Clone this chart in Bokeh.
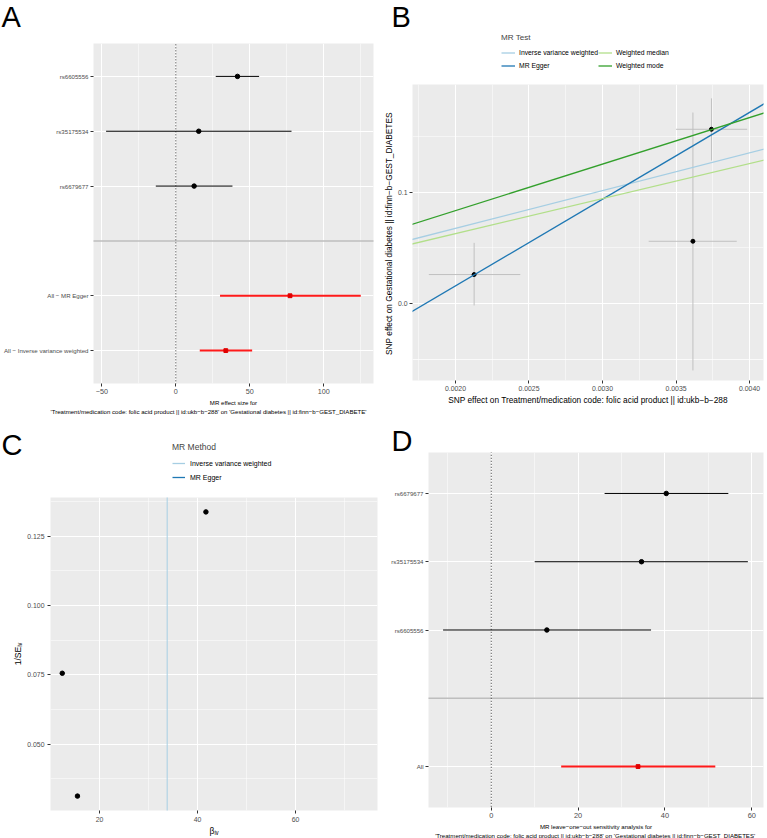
import numpy as np
from bokeh.plotting import figure
from bokeh.layouts import column, row
from bokeh.models import (Range1d, FixedTicker, Label, Legend, LegendItem, NumeralTickFormatter, Title)
from bokeh.embed import file_html
from bokeh.resources import INLINE

# ---------------- data ----------------
# A: MR effect size (single SNP + summary methods)
a_snps = ["rs6605556", "rs35175534", "rs6679677"]
a_snp_b = [41.7, 15.5, 12.4]
a_snp_lo = [27.0, -47.1, -13.5]
a_snp_hi = [56.3, 78.2, 38.3]
a_sum = ["All − MR Egger", "All − Inverse variance weighted"]
a_sum_b = [77.2, 33.8]
a_sum_lo = [29.9, 16.2]
a_sum_hi = [125.0, 51.6]
a_xticks = [-50, 0, 50, 100]
a_xlabel = ["MR effect size for",
            "'Treatment/medication code: folic acid product || id:ukb−b−288' "
            "on 'Gestational diabetes  || id:finn−b−GEST_DIABETE'"]

# B: scatter of SNP effects
b_snp_x = [0.002127, 0.003615, 0.003741]
b_snp_x_lo = [0.001819, 0.003314, 0.003500]
b_snp_x_hi = [0.002441, 0.003913, 0.003984]
b_snp_y = [0.0262, 0.0560, 0.1563]
b_snp_y_lo = [-0.0015, -0.0597, 0.1283]
b_snp_y_hi = [0.0546, 0.1713, 0.1840]
b_methods = ["Inverse variance weighted", "MR Egger", "Weighted median", "Weighted mode"]
b_slopes = [33.8, 77.7, 31.4, 41.7]
b_intercepts = [0.0, -0.1394, 0.0, 0.0]
b_colors = ["#a6cee3", "#1f78b4", "#b2df8a", "#33a02c"]
b_xticks = [0.0020, 0.0025, 0.0030, 0.0035, 0.0040]
b_yticks = [0.0, 0.1]
b_xlabel = "SNP effect on Treatment/medication code: folic acid product || id:ukb−b−288"
b_ylabel = "SNP effect on Gestational diabetes  || id:finn−b−GEST_DIABETES"

# C: funnel plot
c_beta = [41.7, 12.4, 15.5]
c_inv_se = [0.1338, 0.0756, 0.0313]
c_methods = ["Inverse variance weighted", "MR Egger"]
c_method_b = [33.8, 77.2]
c_colors = ["#a6cee3", "#1f78b4"]
c_xticks = [20, 40, 60]
c_yticks = [0.050, 0.075, 0.100, 0.125]
c_xlabel = "βᵢᵥ"
c_ylabel = "1/SEᵢᵥ"

# D: leave-one-out
d_snps = ["rs6679677", "rs35175534", "rs6605556"]
d_b = [40.3, 34.6, 12.8]
d_lo = [26.1, 10.0, -11.1]
d_hi = [54.6, 59.1, 36.8]
d_sum = ["All"]
d_sum_b = [33.8]
d_sum_lo = [16.1]
d_sum_hi = [51.6]
d_xticks = [0, 20, 40, 60]
d_xlabel = ["MR leave−one−out sensitivity analysis for",
            "'Treatment/medication code: folic acid product || id:ukb−b−288' "
            "on 'Gestational diabetes  || id:finn−b−GEST_DIABETES'"]

# ---------------- styling helpers ----------------
FONT = "Liberation Sans"
PANEL_BG = "#ebebeb"


def minors(ticks):
    step = ticks[1] - ticks[0]
    return [t - step / 2 for t in ticks] + [ticks[-1] + step / 2]


def fmt(v):
    s = f"{v:g}"
    return s.replace("-", "−")


def no_align(p):
    try:
        p.frame_align = False
    except Exception:
        pass


def make_fig(fw, fh, bl, br, bb, xr, yr):
    p = figure(width=fw + bl + br, height=fh + bb, min_border_left=bl, min_border_right=br,
               min_border_top=0, min_border_bottom=bb, x_range=Range1d(*xr), y_range=Range1d(*yr),
               output_backend="svg", toolbar_location=None, title=None)
    no_align(p)
    p.background_fill_color = PANEL_BG
    p.border_fill_color = "white"
    p.outline_line_color = None
    for ax in p.axis:
        ax.axis_line_color = None
        ax.major_tick_line_color = "#333333"
        ax.major_tick_out = 3
        ax.major_tick_in = 0
        ax.minor_tick_line_color = None
        ax.major_label_text_font = FONT
        ax.major_label_text_color = "#4d4d4d"
        ax.axis_label_text_font = FONT
        ax.axis_label_text_font_style = "normal"
        ax.axis_label_text_color = "black"
        ax.major_label_standoff = 2
        ax.axis_label_standoff = 2
    for g in p.grid:
        g.grid_line_color = "white"
        g.grid_line_width = 1.1
        g.minor_grid_line_color = "white"
        g.minor_grid_line_width = 0.5
    return p


def make_strip(w, h, letter, lx, lbase):
    """header strip above a panel: pixel-based data coordinates (y measured from top)"""
    s = figure(width=w, height=h, x_range=Range1d(0, w), y_range=Range1d(0, h),
               x_axis_location=None, y_axis_location=None, min_border=0,
               output_backend="svg", toolbar_location=None, title=None)
    no_align(s)
    for g in s.grid:
        g.visible = False
    s.background_fill_color = "white"
    s.border_fill_color = "white"
    s.outline_line_color = None
    s.add_layout(Label(x=lx, y=h - lbase, text=letter, text_font=FONT, text_font_size="29px",
                       text_color="black", text_align="left", text_baseline="alphabetic"))
    return s


def strip_legend(s, title, labels, colors, x_left, y_bottom_from_top, ncols, lab_size, title_size,
                 gw, gh, standoff):
    h = s.height
    items = []
    for lab, col in zip(labels, colors):
        r = s.segment(x0=[np.nan], y0=[np.nan], x1=[np.nan], y1=[np.nan], line_color=col, line_width=1.3)
        items.append(LegendItem(label=lab, renderers=[r]))
    leg = Legend(items=items, title=title, orientation="vertical", ncols=ncols,
                 location=(x_left, h - y_bottom_from_top), margin=0, padding=0, spacing=0,
                 glyph_width=gw, glyph_height=gh, label_standoff=standoff, label_height=gh,
                 label_text_font=FONT, label_text_font_size=lab_size, label_text_color="black",
                 title_text_font=FONT, title_text_font_size=title_size, title_text_font_style="normal",
                 title_standoff=4, background_fill_alpha=0, border_line_color=None)
    s.add_layout(leg, "center")


def below_lines(p, lines, size, aligns, offsets):
    for ln, al, off in zip(lines, aligns, offsets):
        p.add_layout(Title(text=ln, align=al, text_font=FONT, text_font_size=size,
                           text_font_style="normal", text_color="black", standoff=0, offset=off), "below")


def forest(p, snps, b, lo, hi, sums, sb, slo, shi, xticks, tick_x, tick_y):
    n_sum = len(sums)
    snp_pos = [n_sum + 1 + len(snps) - i for i in range(len(snps))]
    sum_pos = [n_sum - i for i in range(n_sum)]
    gap = n_sum + 1
    p.xaxis.ticker = FixedTicker(ticks=xticks, minor_ticks=minors(xticks))
    p.xaxis.major_label_overrides = {t: fmt(t) for t in xticks}
    p.yaxis.ticker = FixedTicker(ticks=sum_pos + snp_pos[::-1], minor_ticks=[])
    labs = {}
    for pos, l in zip(snp_pos, snps):
        labs[pos] = l
    for pos, l in zip(sum_pos, sums):
        labs[pos] = l
    p.yaxis.major_label_overrides = labs
    p.xaxis.major_label_text_font_size = tick_x
    p.yaxis.major_label_text_font_size = tick_y
    p.xaxis.major_label_standoff = 1
    xr, yr = p.x_range, p.y_range
    p.segment(x0=[xr.start - 100], y0=[gap], x1=[xr.end + 100], y1=[gap], line_color="#bebebe", line_width=1.5)
    p.segment(x0=[0], y0=[yr.start - 1], x1=[0], y1=[yr.end + 1], line_color="#333333", line_width=1, line_dash="1 2")
    p.segment(x0=lo, y0=snp_pos, x1=hi, y1=snp_pos, line_color="black", line_width=1)
    p.scatter(x=b, y=snp_pos, size=4.5, color="black")
    p.segment(x0=slo, y0=sum_pos, x1=shi, y1=sum_pos, line_color="#ff1a1a", line_width=2)
    p.scatter(x=sb, y=sum_pos, marker="square", size=3.8, color="#e00000")
    return p


# ---------------- Panel A ----------------
n_rows_a = len(a_snps) + len(a_sum) + 1
sA = make_strip(380, 43, "A", 1, 16)
pA = make_fig(280, 340, 93, 7, 37, (-55.6, 133.6), (0.4, n_rows_a + 0.6))
forest(pA, a_snps, a_snp_b, a_snp_lo, a_snp_hi, a_sum, a_sum_b, a_sum_lo, a_sum_hi,
       a_xticks, "7.2px", "6.1px")
below_lines(pA, a_xlabel, "6.1px", ["center", "left"], [0, -43])

# ---------------- Panel B ----------------
sB = make_strip(387, 84, "B", 11, 16)
strip_legend(sB, "MR Test", b_methods, b_colors, 121, 72, 2, "6.8px", "8.1px", 14, 13, 4)
pB = make_fig(352, 296, 31, 4, 40, (0.001708, 0.004095), (-0.0687, 0.1964))
pB.xaxis.ticker = FixedTicker(ticks=b_xticks, minor_ticks=minors(b_xticks))
pB.xaxis.formatter = NumeralTickFormatter(format="0.0000")
pB.yaxis.ticker = FixedTicker(ticks=b_yticks, minor_ticks=minors(b_yticks) + [b_yticks[0] - 0.05])
pB.yaxis.formatter = NumeralTickFormatter(format="0.0")
for ax in pB.axis:
    ax.major_label_text_font_size = "6.9px"
    ax.axis_label_text_font_size = "8.3px"
    ax.major_label_standoff = 1
    ax.axis_label_standoff = 1
pB.xaxis.axis_label = b_xlabel
pB.yaxis.axis_label = b_ylabel
pB.segment(x0=b_snp_x, y0=b_snp_y_lo, x1=b_snp_x, y1=b_snp_y_hi, line_color="#c0c0c0", line_width=1)
pB.segment(x0=b_snp_x_lo, y0=b_snp_y, x1=b_snp_x_hi, y1=b_snp_y, line_color="#c0c0c0", line_width=1)
pB.scatter(x=b_snp_x, y=b_snp_y, size=4, color="black")
xs0, xs1 = pB.x_range.start - 0.001, pB.x_range.end + 0.001
for s, c, col in zip(b_slopes, b_intercepts, b_colors):
    pB.segment(x0=[xs0], y0=[c + s * xs0], x1=[xs1], y1=[c + s * xs1], line_color=col, line_width=1.3)

# ---------------- Panel C ----------------
sC = make_strip(380, 77, "C", 1, 24)
strip_legend(sC, "MR Method", c_methods, c_colors, 172, 64, 1, "7px", "8.5px", 13, 14, 5)
pC = make_fig(327, 315, 50, 3, 26, (10.0, 76.7), (0.0261, 0.139))
pC.xaxis.ticker = FixedTicker(ticks=c_xticks, minor_ticks=minors(c_xticks))
pC.yaxis.ticker = FixedTicker(ticks=c_yticks, minor_ticks=minors(c_yticks))
pC.yaxis.formatter = NumeralTickFormatter(format="0.000")
for ax in pC.axis:
    ax.major_label_text_font_size = "6.9px"
    ax.axis_label_text_font_size = "8.5px"
    ax.major_label_standoff = 2
    ax.axis_label_standoff = 1
pC.xaxis.axis_label = c_xlabel
pC.yaxis.axis_label = c_ylabel
for bv, col in zip(c_method_b, c_colors):
    pC.segment(x0=[bv], y0=[pC.y_range.start - 1], x1=[bv], y1=[pC.y_range.end + 1],
               line_color=col, line_width=1)
pC.scatter(x=c_beta, y=c_inv_se, size=4.5, color="black")

# ---------------- Panel D ----------------
n_rows_d = len(d_snps) + len(d_sum) + 1
sD = make_strip(387, 32, "D", 11, 20)
pD = make_fig(335, 356, 48, 4, 30, (-14.46, 62.7), (0.4, n_rows_d + 0.6))
forest(pD, d_snps, d_b, d_lo, d_hi, d_sum, d_sum_b, d_sum_lo, d_sum_hi,
       d_xticks, "7.4px", "6.1px")
below_lines(pD, d_xlabel, "6.1px", ["center", "center"], [0, 0])

layout = column(row(column(sA, pA), column(sB, pB)), row(column(sC, pC), column(sD, pD)))
open("out.html", "w").write(file_html(layout, INLINE))
